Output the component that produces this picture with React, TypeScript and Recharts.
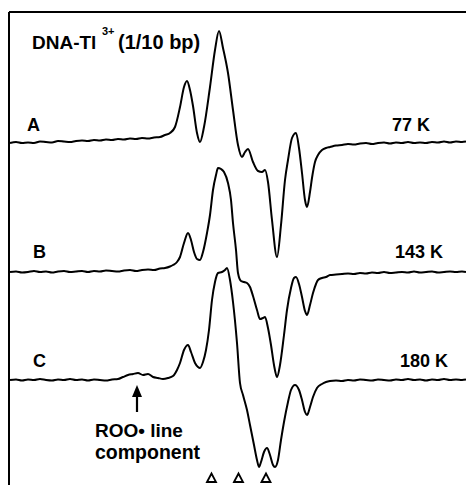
import { ComposedChart, Line, Scatter, XAxis, YAxis } from 'recharts';

// EPR traces: [field position, signal relative to the trace's own baseline]
const traceA: [number, number][] = [
  [10, 0], [16, 1], [22, 0], [28, 0.5], [34, 0], [40, 1.5], [46, 1], [52, 0.5], [58, 2], [64, 1.5],
  [70, 1], [76, 2], [82, 2.5], [88, 2], [94, 3], [100, 2.5], [106, 3.5], [112, 3], [118, 4], [124, 3.5],
  [130, 4.5], [136, 4], [142, 5], [148, 4.5], [154, 5.5], [160, 6], [165, 8], [170, 10], [175, 16],
  [180, 36], [184, 56], [187, 62], [190, 53], [193, 37], [197, 10], [200, 1], [204, 16], [210, 56],
  [215, 93], [219, 112], [223, 95], [228, 70], [233, 33], [238, -2], [242, -14], [245, -9], [248, -6],
  [253, -19], [258, -28], [262, -29], [265, -27], [268, -39], [272, -77], [277, -114], [281, -82],
  [285, -37], [288, -17], [292, 5], [296, 10], [299, -5], [302, -30], [305, -57], [307, -64], [310, -49],
  [312, -35], [315, -19], [318, -12], [322, -7], [326, -5], [330, -4], [336, -2.5], [342, -2], [348, -1],
  [354, -1.5], [360, -0.5], [366, 0], [372, -1], [378, 0], [384, 0.5], [390, -0.5], [396, 0.5], [402, 0],
  [408, 1], [414, 0], [420, 0.5], [426, 0], [432, 1], [438, 0.5], [444, 1.5], [450, 0.5], [456, 1.5],
  [462, 1], [466, 1.5],
];

const traceB: [number, number][] = [
  [10, 0], [16, 0.5], [22, -0.5], [28, 0], [34, 1], [40, 0], [46, 0.5], [52, -0.5], [58, 0.5], [64, 1],
  [70, 0], [76, 0.5], [82, 1], [88, 0], [94, 1], [100, 0.5], [106, 1.5], [112, 1], [118, 0.5], [124, 1.5],
  [130, 2], [136, 1], [142, 2], [148, 2.5], [154, 2], [160, 3.5], [165, 4], [170, 5.5], [173, 7],
  [177, 10], [180, 15], [184, 29], [188, 39], [191, 32], [194, 20], [197, 13], [200, 12], [203, 20],
  [207, 39], [210, 57], [213, 82], [216, 97], [218, 104], [221, 103], [224, 100], [228, 89], [231, 72],
  [233, 49], [236, 22], [238, -1], [241, -9], [244, -10], [247, -11], [250, -15], [253, -24], [257, -38],
  [260, -47], [263, -46], [265, -45], [268, -56], [271, -73], [274, -93], [277, -105], [280, -93],
  [284, -63], [287, -38], [291, -16], [294, -6], [296, -5], [299, -12], [302, -25], [305, -39], [307, -43],
  [310, -33], [313, -21], [316, -12], [318, -8], [322, -6], [326, -5], [330, -3], [336, -2.5], [342, -2],
  [348, -1.5], [354, -2], [360, -1], [366, -1.5], [372, -0.5], [378, -1], [384, 0], [390, -1], [396, -0.5],
  [402, 0], [408, -0.5], [414, 0.5], [420, -0.5], [426, 0], [432, 0.5], [438, -0.5], [444, 0], [450, 0.5],
  [456, 0], [462, 0.5], [466, 0],
];

const traceC: [number, number][] = [
  [10, 0], [16, 0.5], [22, -0.5], [28, 0.5], [34, 0], [40, 1], [46, 0], [52, -0.5], [58, 0.5], [64, 0],
  [70, 1], [76, 0], [82, 0.5], [88, -0.5], [94, 0.5], [100, 0], [106, -0.5], [112, 0.5], [118, 1],
  [123, 3], [128, 5], [133, 6], [138, 7], [143, 5], [148, 6], [153, 3], [158, 2], [163, 1], [168, 2],
  [173, 4], [177, 10], [180, 17], [184, 30], [188, 35], [191, 28], [195, 17], [198, 13], [200, 12],
  [203, 18], [206, 30], [209, 50], [212, 80], [215, 98], [218, 107], [222, 108], [225, 110], [227, 112],
  [230, 100], [233, 78], [237, 37], [240, -3], [243, -15], [247, -30], [250, -45], [254, -65], [257, -80],
  [259, -87], [261, -82], [264, -72], [267, -68], [270, -75], [273, -85], [275, -87], [278, -80],
  [281, -60], [284, -42], [288, -22], [291, -10], [295, -5], [299, -10], [302, -20], [305, -32], [307, -35],
  [310, -27], [313, -17], [317, -8], [322, -4], [326, -2], [330, -1], [336, -0.5], [342, -1], [348, 0],
  [354, -0.5], [360, 0.5], [366, 0], [372, -0.5], [378, 0.5], [384, 0], [390, -0.5], [396, 0.5], [402, 0],
  [408, 1], [414, 0], [420, 0.5], [426, -0.5], [432, 0.5], [438, 0], [444, 1], [450, 0], [456, 0.5],
  [462, 0], [466, 0.5],
];

// vertical offsets of the stacked spectra
const offsetA = 342;
const offsetB = 213;
const offsetC = 105;

// open triangles under trace C, and the ROO• arrow tip
const markerFields = [211.5, 238.5, 266];
const markerLevel = 7;
const arrowTip = { x: 137, y: 100 };

const toRows = (pts: [number, number][], offset: number) =>
  pts.map(([x, s]) => ({ x, y: offset + s }));

const Triangle = (props: any) => {
  const { cx, cy } = props;
  return (
    <polygon
      points={`${cx - 4.5},${cy + 4} ${cx},${cy - 4.5} ${cx + 4.5},${cy + 4}`}
      fill="#fff"
      stroke="#000"
      strokeWidth={1.8}
    />
  );
};

const Arrow = (props: any) => {
  const { cx, cy } = props;
  return (
    <g>
      <line x1={cx} y1={cy + 8} x2={cx} y2={cy + 27} stroke="#000" strokeWidth={2.2} />
      <polygon points={`${cx - 5},${cy + 12} ${cx},${cy} ${cx + 5},${cy + 12}`} fill="#000" />
    </g>
  );
};

const font = '"Liberation Sans", Arial, sans-serif';

export default function App() {
  const lineProps = {
    type: 'monotone' as const,
    dataKey: 'y',
    stroke: '#000',
    strokeWidth: 2,
    dot: false,
    isAnimationActive: false,
  };
  return (
    <div style={{ position: 'relative', width: 466, height: 485, background: '#fff' }}>
      <style>{'body{margin:0}'}</style>
      <ComposedChart width={466} height={485} margin={{ top: 11, right: 0, bottom: 0, left: 8 }}>
        <XAxis
          type="number"
          dataKey="x"
          orientation="top"
          domain={[9, 466]}
          height={1}
          tick={false}
          tickLine={false}
          axisLine={{ stroke: '#000', strokeWidth: 2 }}
          allowDataOverflow
        />
        <YAxis
          type="number"
          dataKey="y"
          domain={[0, 473]}
          width={1}
          tick={false}
          tickLine={false}
          axisLine={{ stroke: '#000', strokeWidth: 2 }}
          allowDataOverflow
        />
        <Line {...lineProps} data={toRows(traceA, offsetA)} />
        <Line {...lineProps} data={toRows(traceB, offsetB)} />
        <Line {...lineProps} data={toRows(traceC, offsetC)} />
        <Scatter
          data={markerFields.map((x) => ({ x, y: markerLevel }))}
          shape={Triangle}
          isAnimationActive={false}
        />
        <Scatter data={[arrowTip]} shape={Arrow} isAnimationActive={false} />
      </ComposedChart>
      <svg
        width={466}
        height={485}
        style={{ position: 'absolute', left: 0, top: 0, pointerEvents: 'none' }}
        fontFamily={font}
        fontWeight="bold"
        fill="#000"
      >
        <text x={32} y={49} fontSize={19}>DNA-Tl</text>
        <text x={102} y={35} fontSize={11}>3+</text>
        <text x={118} y={49} fontSize={20}>(1/10 bp)</text>
        <text x={27} y={131} fontSize={18}>A</text>
        <text x={392} y={131} fontSize={18}>77 K</text>
        <text x={33} y={258} fontSize={18}>B</text>
        <text x={395} y={258} fontSize={18}>143 K</text>
        <text x={33} y={367} fontSize={18}>C</text>
        <text x={400} y={367} fontSize={18}>180 K</text>
        <text x={95} y={437} fontSize={19}>ROO• line</text>
        <text x={95} y={459} fontSize={19.5}>component</text>
      </svg>
    </div>
  );
}
